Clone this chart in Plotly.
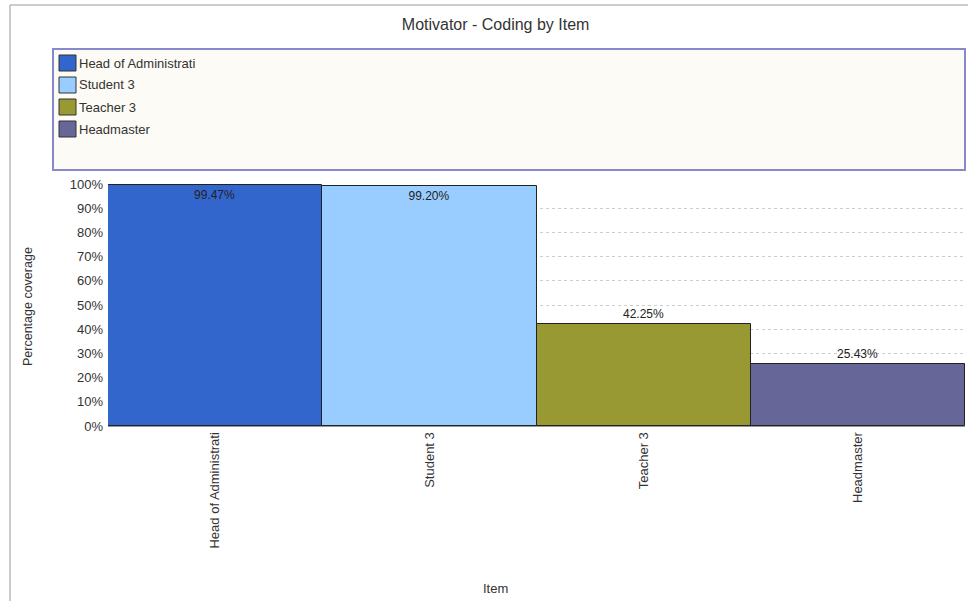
import plotly.graph_objects as go

categories = ["Head of Administrati", "Student 3", "Teacher 3", "Headmaster"]
values = [99.47, 99.20, 42.25, 25.43]
colors = ["#3366CC", "#99CCFF", "#999933", "#666699"]
label_pos = ["inside", "inside", "outside", "outside"]
ytick_vals = [0, 10, 20, 30, 40, 50, 60, 70, 80, 90, 100]
ytick_text = [f"{v}%" for v in ytick_vals]

W, H = 968, 601
L, R, T, B = 108, 965, 184, 426

def px(x):
    return (x - L) / (R - L)

def py(y):
    return (B - y) / (B - T)

fig = go.Figure()
for c, v, col, pos in zip(categories, values, colors, label_pos):
    fig.add_trace(go.Bar(
        x=[c], y=[v], name=c,
        marker=dict(color=col, line=dict(color="#222222", width=1)),
        text=[f"{v:.2f}%"], textposition=pos,
        insidetextanchor="end",
        textfont=dict(size=12, color="#222222"),
        cliponaxis=False,
    ))

shapes = [
    dict(type="rect", xref="paper", yref="paper",
         x0=px(53), x1=px(965), y0=py(170), y1=py(49),
         fillcolor="#FDFBF5", line=dict(color="#8888CC", width=2), layer="below"),
    dict(type="line", xref="paper", yref="paper",
         x0=px(10), x1=px(10), y0=py(5), y1=py(601),
         line=dict(color="#999999", width=1)),
    dict(type="line", xref="paper", yref="paper",
         x0=px(10), x1=px(968), y0=py(5), y1=py(5),
         line=dict(color="#999999", width=1)),
]
annotations = [
    dict(text="Percentage coverage", xref="paper", yref="paper",
         x=px(28), y=py(307), xanchor="center", yanchor="middle",
         textangle=-90, showarrow=False,
         font=dict(size=12.5, color="#333333")),
    dict(text="Item", xref="paper", yref="paper",
         x=px(495), y=py(588), xanchor="center", yanchor="middle", showarrow=False,
         font=dict(size=13, color="#333333")),
]

# legend entries (square swatch + label), one per category
for i, (c, col) in enumerate(zip(categories, colors)):
    yc = 63 + 22 * i
    shapes.append(dict(type="rect", xref="paper", yref="paper",
                       x0=px(59), x1=px(76), y0=py(yc + 8), y1=py(yc - 8),
                       fillcolor=col, line=dict(color="#333333", width=1)))
    annotations.append(dict(text=c, xref="paper", yref="paper",
                            x=px(77), y=py(yc), xanchor="left", yanchor="middle",
                            showarrow=False, font=dict(size=13, color="#333333")))

fig.update_layout(
    width=W, height=H,
    margin=dict(l=L, r=W - R, t=T, b=H - B),
    paper_bgcolor="white", plot_bgcolor="white",
    barmode="overlay", bargap=0,
    font=dict(family="Liberation Sans, Arial, sans-serif", size=13, color="#333333"),
    title=dict(text="Motivator - Coding by Item", x=0.512, xanchor="center",
               y=1 - 24 / H, yanchor="middle",
               font=dict(size=16, color="#333333")),
    showlegend=False,
    xaxis=dict(tickangle=-90, showline=True, linecolor="#999999",
               ticks="", tickfont=dict(size=13, color="#333333"),
               showgrid=False),
    yaxis=dict(range=[0, 100], tickmode="array", tickvals=ytick_vals, ticktext=ytick_text,
               showgrid=True, gridcolor="#cccccc", griddash="dot", ticklabelstandoff=4,
               zeroline=False, ticks="", tickfont=dict(size=13, color="#333333")),
    shapes=shapes,
    annotations=annotations,
)

fig.write_html("out.html")
